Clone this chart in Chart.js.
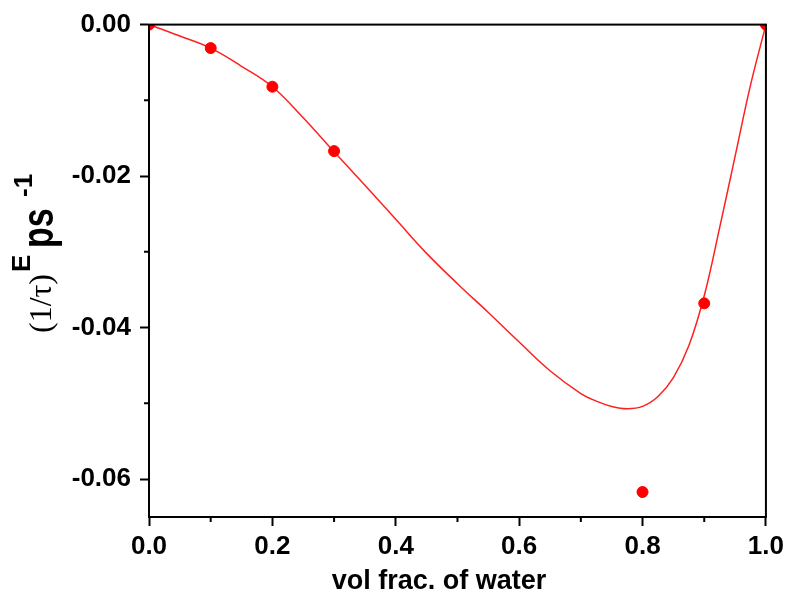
<!DOCTYPE html>
<html>
<head>
<meta charset="utf-8">
<script src="https://cdn.jsdelivr.net/npm/chart.js@4/dist/chart.umd.min.js"></script>
<style>
  html, body { margin: 0; padding: 0; background: #fff; }
  #wrap { width: 789px; height: 595px; }
</style>
</head>
<body>
<div id="wrap"><canvas id="myChart"></canvas></div>
<script>
// measured points
const waterFrac = [0, 0.1, 0.2, 0.3, 0.8, 0.9, 1.0]
const excessRate = [0, -0.0031, -0.0082, -0.0167, -0.0617, -0.0368, 0]

// fitted curve
const fitX = [0, 0.05, 0.1, 0.15, 0.2, 0.25, 0.3, 0.35, 0.4, 0.45, 0.5, 0.55, 0.6, 0.65, 0.7, 0.725, 0.75, 0.775, 0.8, 0.825, 0.85, 0.875, 0.9, 0.925, 0.95, 0.975, 1.0]
const fitY = [0, -0.0015, -0.0031, -0.0055, -0.0082, -0.0123, -0.0168, -0.0212, -0.0257, -0.0302, -0.0342, -0.0380, -0.0419, -0.0457, -0.0487, -0.0497, -0.0504, -0.0507, -0.0504, -0.0491, -0.0466, -0.0424, -0.0358, -0.0268, -0.0174, -0.0080, 0]

const xTicks = [0, 0.2, 0.4, 0.6, 0.8, 1.0]
const xMinor = [0.1, 0.3, 0.5, 0.7, 0.9]
const yTicks = [0, -0.02, -0.04, -0.06]
const yMinor = [-0.01, -0.03, -0.05]

const sans = "'Liberation Sans', Arial, sans-serif"
const tickFont = { family: sans, size: 26, weight: 'bold' }

const framePlugin = {
  id: 'frame',
  afterDraw(chart) {
    const { ctx, chartArea: a, scales } = chart
    ctx.save()
    ctx.strokeStyle = '#000'
    ctx.lineWidth = 2
    ctx.strokeRect(a.left, a.top, a.right - a.left, a.bottom - a.top)
    // minor ticks
    ctx.beginPath()
    xMinor.forEach((v) => {
      const px = scales.x.getPixelForValue(v)
      ctx.moveTo(px, a.bottom)
      ctx.lineTo(px, a.bottom + 5)
    })
    yMinor.forEach((v) => {
      const py = scales.y.getPixelForValue(v)
      ctx.moveTo(a.left, py)
      ctx.lineTo(a.left - 5, py)
    })
    ctx.stroke()

    // x axis title
    ctx.fillStyle = '#000'
    ctx.font = "bold 27px " + sans
    ctx.textAlign = 'center'
    ctx.textBaseline = 'alphabetic'
    ctx.fillText('vol frac. of water', 439, 589)

    // y axis title: (1/τ)^E ps^-1, rotated
    ctx.translate(53, 333)
    ctx.rotate(-Math.PI / 2)
    ctx.textAlign = 'left'

    ctx.save()
    ctx.font = "32px 'Liberation Serif', 'Times New Roman', serif"
    const w = ctx.measureText('(1/τ)').width
    ctx.scale(59 / w, 1)
    ctx.fillText('(1/τ)', 0, -2)
    ctx.restore()

    ctx.font = "bold 26px " + sans
    ctx.fillText('E', 61, -23)

    ctx.save()
    ctx.translate(85, 0)
    ctx.scale(1, 1.28)
    ctx.font = "bold 34px " + sans
    ctx.fillText('ps', 0, 0)
    ctx.restore()

    ctx.font = "bold 26px " + sans
    ctx.fillText('-1', 136, -21)
    ctx.restore()
  }
}

let ctx = document.querySelector("#myChart")
let myChart = new Chart(ctx, {
  type: 'scatter',
  data: {
    datasets: [{
      label: 'measured',
      data: waterFrac.map((v, i) => ({ x: v, y: excessRate[i] })),
      backgroundColor: '#ff0000',
      borderColor: '#ff0000',
      pointRadius: 5.5,
      showLine: false,
      clip: 0
    }, {
      label: 'fit',
      data: fitX.map((v, i) => ({ x: v, y: fitY[i] })),
      borderColor: '#ff2020',
      borderWidth: 1.5,
      pointRadius: 0,
      showLine: true,
      tension: 0.4,
      fill: false
    }]
  },
  options: {
    responsive: true,
    maintainAspectRatio: false,
    animation: false,
    layout: { padding: { top: 19, right: 20, left: 0, bottom: 0 } },
    plugins: { legend: { display: false }, tooltip: { enabled: false } },
    scales: {
      x: {
        type: 'linear',
        min: 0,
        max: 1,
        afterBuildTicks: (s) => { s.ticks = xTicks.map((v) => ({ value: v })) },
        afterFit: (s) => { s.height = 78 },
        grid: { display: true, drawOnChartArea: false, tickLength: 9, tickWidth: 2, tickColor: '#000' },
        border: { display: true, color: '#000', width: 2 },
        ticks: { color: '#000', font: tickFont, padding: 5, maxRotation: 0, callback: (v) => Number(v).toFixed(1) }
      },
      y: {
        type: 'linear',
        min: -0.065,
        max: 0,
        afterBuildTicks: (s) => { s.ticks = yTicks.map((v) => ({ value: v })) },
        afterFit: (s) => { s.width = 149 },
        grid: { display: true, drawOnChartArea: false, tickLength: 9, tickWidth: 2, tickColor: '#000' },
        border: { display: true, color: '#000', width: 2 },
        ticks: { color: '#000', font: tickFont, padding: 9, callback: (v) => (v === 0 ? '0.00' : Number(v).toFixed(2)) }
      }
    }
  },
  plugins: [framePlugin]
})
</script>
</body>
</html>
